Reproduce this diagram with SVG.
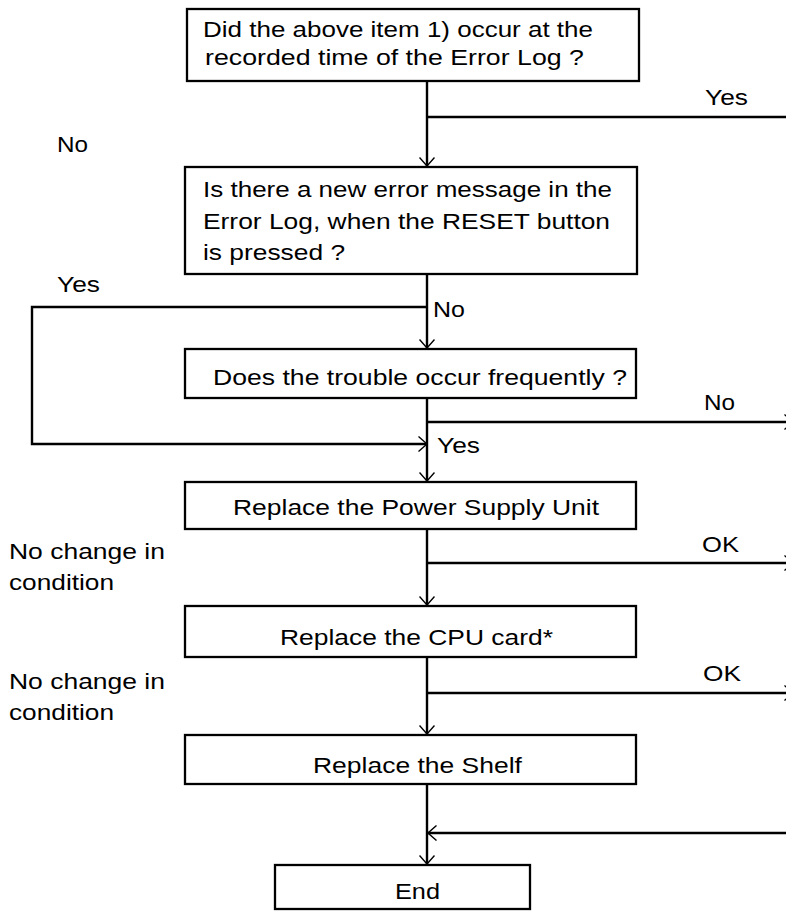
<svg xmlns="http://www.w3.org/2000/svg" width="786" height="911" viewBox="0 0 786 911">
  <style>
    .box { fill: #ffffff; stroke: #000000; stroke-width: 2.3; }
    .wire { fill: none; stroke: #000000; stroke-width: 2.4; }
    .arr { marker-end: url(#head); }
    text { font-family: "Liberation Sans", Arial, sans-serif; font-size: 21.5px; fill: #000000; }
  </style>
  <defs>
    <marker id="head" viewBox="0 0 10 16" refX="9.5" refY="8" markerWidth="10" markerHeight="16" markerUnits="userSpaceOnUse" orient="auto">
      <path d="M1,0.5 L9.5,8 L1,15.5" fill="none" stroke="#000000" stroke-width="1.4"/>
    </marker>
  </defs>
  <rect width="786" height="911" fill="#ffffff"/>

  <!-- connectors -->
  <g id="connectors">
    <path class="wire arr" d="M427,81 V166"/>
    <path class="wire" d="M427,117 H786"/>
    <path class="wire arr" d="M427,274 V348"/>
    <path class="wire arr" d="M427,307 H32 V444 H427"/>
    <path class="wire arr" d="M427,398 V481"/>
    <path class="wire arr" d="M427,422 H793"/>
    <path class="wire arr" d="M427,529 V605"/>
    <path class="wire arr" d="M427,563 H793"/>
    <path class="wire arr" d="M427,657 V734"/>
    <path class="wire arr" d="M427,693 H793"/>
    <path class="wire arr" d="M427,784 V864"/>
    <path class="wire arr" d="M786,833 H428"/>
  </g>

  <!-- branch labels (wide type: horizontal scale 1.21) -->
  <g id="labels">
    <text transform="matrix(1.21 0 0 1 705 105)" textLength="35.5" lengthAdjust="spacingAndGlyphs">Yes</text>
    <text transform="matrix(1.21 0 0 1 57 152)" textLength="25.6" lengthAdjust="spacingAndGlyphs">No</text>
    <text transform="matrix(1.21 0 0 1 57 292)" textLength="35.5" lengthAdjust="spacingAndGlyphs">Yes</text>
    <text transform="matrix(1.21 0 0 1 433 317)" textLength="26.4" lengthAdjust="spacingAndGlyphs">No</text>
    <text transform="matrix(1.21 0 0 1 704 410)" textLength="25.6" lengthAdjust="spacingAndGlyphs">No</text>
    <text transform="matrix(1.21 0 0 1 437 453)" textLength="35.5" lengthAdjust="spacingAndGlyphs">Yes</text>
    <text transform="matrix(1.21 0 0 1 702 552)" textLength="30.6" lengthAdjust="spacingAndGlyphs">OK</text>
    <text transform="matrix(1.21 0 0 1 9 559)" textLength="128.9" lengthAdjust="spacingAndGlyphs">No change in</text>
    <text transform="matrix(1.21 0 0 1 9 590)" textLength="86.8" lengthAdjust="spacingAndGlyphs">condition</text>
    <text transform="matrix(1.21 0 0 1 703 681)" textLength="31.4" lengthAdjust="spacingAndGlyphs">OK</text>
    <text transform="matrix(1.21 0 0 1 9 689)" textLength="128.9" lengthAdjust="spacingAndGlyphs">No change in</text>
    <text transform="matrix(1.21 0 0 1 9 720)" textLength="86.8" lengthAdjust="spacingAndGlyphs">condition</text>
  </g>

  <!-- nodes -->
  <g id="q-occurred">
    <rect class="box" x="187" y="9" width="452" height="72"/>
    <text transform="matrix(1.21 0 0 1 203 37)" textLength="322.3" lengthAdjust="spacingAndGlyphs">Did the above item 1) occur at the</text>
    <text transform="matrix(1.21 0 0 1 205 65)" textLength="313.2" lengthAdjust="spacingAndGlyphs">recorded time of the Error Log ?</text>
  </g>
  <g id="q-new-error">
    <rect class="box" x="185" y="167" width="452" height="107"/>
    <text transform="matrix(1.21 0 0 1 203 197)" textLength="338" lengthAdjust="spacingAndGlyphs">Is there a new error message in the</text>
    <text transform="matrix(1.21 0 0 1 203 229)" textLength="336.4" lengthAdjust="spacingAndGlyphs">Error Log, when the RESET button</text>
    <text transform="matrix(1.21 0 0 1 203 260)" textLength="117.4" lengthAdjust="spacingAndGlyphs">is pressed ?</text>
  </g>
  <g id="q-frequent">
    <rect class="box" x="185" y="349" width="451" height="49"/>
    <text transform="matrix(1.21 0 0 1 213 385)" textLength="342.1" lengthAdjust="spacingAndGlyphs">Does the trouble occur frequently ?</text>
  </g>
  <g id="replace-psu">
    <rect class="box" x="185" y="482" width="451" height="47"/>
    <text transform="matrix(1.21 0 0 1 233 515)" textLength="302.5" lengthAdjust="spacingAndGlyphs">Replace the Power Supply Unit</text>
  </g>
  <g id="replace-cpu">
    <rect class="box" x="185" y="606" width="451" height="51"/>
    <text transform="matrix(1.21 0 0 1 280 645)" textLength="225.6" lengthAdjust="spacingAndGlyphs">Replace the CPU card*</text>
  </g>
  <g id="replace-shelf">
    <rect class="box" x="185" y="735" width="451" height="49"/>
    <text transform="matrix(1.21 0 0 1 313 773)" textLength="172.7" lengthAdjust="spacingAndGlyphs">Replace the Shelf</text>
  </g>
  <g id="end">
    <rect class="box" x="275" y="865" width="255" height="44"/>
    <text transform="matrix(1.21 0 0 1 395 899)" textLength="37.2" lengthAdjust="spacingAndGlyphs">End</text>
  </g>
</svg>
